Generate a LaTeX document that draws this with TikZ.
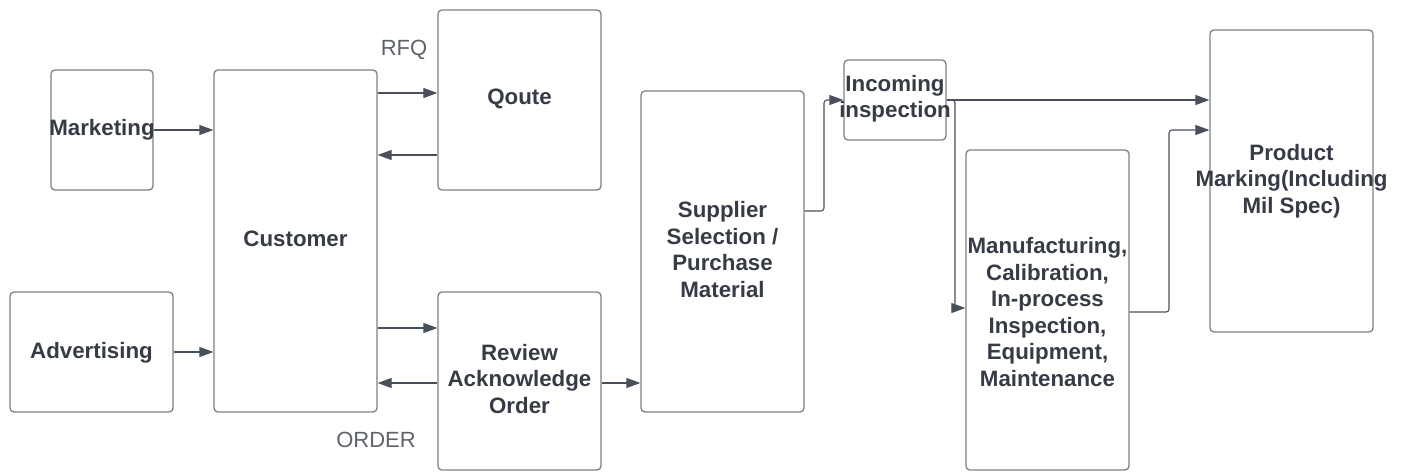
\documentclass[tikz,border=0pt]{standalone}
\usepackage{fontspec}
\setmainfont{Liberation Sans}
\usetikzlibrary{arrows.meta}
\definecolor{boxline}{HTML}{7C8088}
\definecolor{ink}{HTML}{363B45}
\definecolor{wire}{HTML}{4A505B}
\begin{document}
\begin{tikzpicture}[x=1pt,y=-1pt,
  blk/.style={draw=boxline,line width=1.3pt,rounded corners=4pt,inner sep=0pt},
  txt/.style={text=ink,align=center,inner sep=0pt,
    font=\bfseries\fontsize{22.3}{26.5}\selectfont},
  flow/.style={draw=wire,line width=1.1pt,rounded corners=3pt,
    -{Triangle[length=14pt,width=10pt]}},
  tag/.style={text=ink!80,font=\fontsize{22}{26}\selectfont,inner sep=0pt}]
\useasboundingbox (0,0) rectangle (1403,472);
% boxes (the text may run past the frame, so it is set on its own)
\node[blk,minimum width=102pt,minimum height=120pt] (mkt) at (102,130) {};
\node[blk,minimum width=163pt,minimum height=120pt] (adv) at (91.5,352) {};
\node[blk,minimum width=163pt,minimum height=342pt] (cus) at (295.5,241) {};
\node[blk,minimum width=163pt,minimum height=180pt] (qte) at (519.5,100) {};
\node[blk,minimum width=163pt,minimum height=178pt] (rev) at (519.5,381) {};
\node[blk,minimum width=163pt,minimum height=321pt] (sup) at (722.5,251.5) {};
\node[blk,minimum width=102pt,minimum height=80pt] (inc) at (895,100) {};
\node[blk,minimum width=163pt,minimum height=320pt] (man) at (1047.5,310) {};
\node[blk,minimum width=163pt,minimum height=302pt] (prd) at (1291.5,181) {};
% box texts
\node[txt] (mktT) at (mkt.center) {Marketing};
\node[txt] (advT) at ([yshift=-1pt]adv.center) {Advertising};
\node[txt] (cusT) at ([yshift=2pt]cus.center) {Customer};
\node[txt] (qteT) at ([yshift=1pt]qte.center) {Qoute};
\node[txt] (revT) at ([yshift=2pt]rev.center) {Review\\Acknowledge\\Order};
\node[txt] (supT) at ([yshift=2pt]sup.center) {Supplier\\Selection /\\Purchase\\Material};
\node[txt] (incT) at ([yshift=1.5pt]inc.center) {Incoming\\inspection};
\node[txt] (manT) at ([yshift=-2pt]man.center) {Manufacturing,\\Calibration,\\In-process\\Inspection,\\Equipment,\\Maintenance};
\node[txt] (prdT) at (prd.center) {Product\\Marking(Including\\Mil Spec)};
% labels
\node[tag] (rfq) at (404,50) {RFQ};
\node[tag] (ord) at (376,440) {ORDER};
% connectors
\draw[flow] (mkt.east |- 0,130) -- (cus.west |- 0,130);
\draw[flow] (adv.east |- 0,352) -- (cus.west |- 0,352);
\draw[flow] (cus.east |- 0,93) -- (qte.west |- 0,93);
\draw[flow] (qte.west |- 0,155) -- (cus.east |- 0,155);
\draw[flow] (cus.east |- 0,328) -- (rev.west |- 0,328);
\draw[flow] (rev.west |- 0,383) -- (cus.east |- 0,383);
\draw[flow] (rev.east |- 0,383) -- (sup.west |- 0,383);
\draw[flow] (sup.east |- 0,211) -- (824,211) -- (824,100) -- (inc.west |- 0,100);
\draw[flow] (inc.east |- 0,100) -- (prd.west |- 0,100);
\draw[flow] (inc.east |- 0,100) -- (955,100) -- (955,308) -- (man.west |- 0,308);
\draw[flow] (man.east |- 0,312) -- (1169,312) -- (1169,130) -- (prd.west |- 0,130);
\end{tikzpicture}
\end{document}
